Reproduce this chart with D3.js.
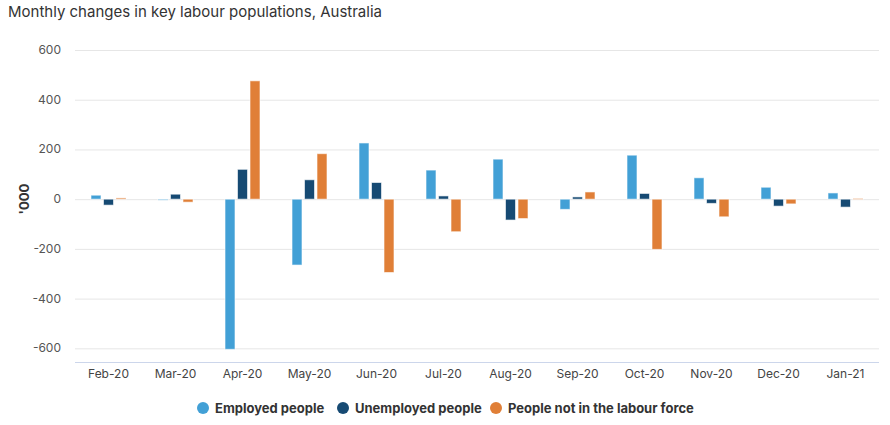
<!DOCTYPE html>
<html>
<head>
<meta charset="utf-8">
<script src="https://cdn.jsdelivr.net/npm/d3@7"></script>
<style>
  body { margin: 0; background: #fff; font-family: Inter, "Noto Sans", sans-serif; }
  svg text { font-family: Inter, "Noto Sans", sans-serif; }
</style>
</head>
<body>
<svg width="890" height="425"></svg>
<script>
// data, '000 persons, monthly change
var months = ["Feb-20", "Mar-20", "Apr-20", "May-20", "Jun-20", "Jul-20",
              "Aug-20", "Sep-20", "Oct-20", "Nov-20", "Dec-20", "Jan-21"];
var employed   = [16, -2, -604, -265, 226, 117, 161, -41, 177, 86, 48, 25];
var unemployed = [-24, 20, 120, 78, 67, 13, -84, 9, 23, -17, -28, -32];
var notInForce = [5, -12, 476, 183, -295, -131, -78, 29, -202, -71, -19, 3];
var yTicks = [-600, -400, -200, 0, 200, 400, 600];

var seriesNames = ["Employed people", "Unemployed people", "People not in the labour force"];
var seriesColors = ["#42a0d6", "#164a73", "#e07f37"];
var seriesValues = [employed, unemployed, notInForce];

var svg = d3.select("svg");
var margin = {left: 75, right: 11, top: 50, bottom: 63};
var width = 890 - margin.left - margin.right,
    height = 425 - margin.top - margin.bottom;

var x = d3.scaleBand().domain(months).range([margin.left, margin.left + width]);
var x1 = d3.scaleBand().domain(d3.range(3)).range([x.bandwidth() / 2 - 20, x.bandwidth() / 2 + 20]).padding(0.2);
var y = d3.scaleLinear().domain([-655, 600]).range([margin.top + height, margin.top]);

// title
svg.append("text")
  .attr("x", 8).attr("y", 17)
  .attr("fill", "#333").style("font-size", "15px")
  .text("Monthly changes in key labour populations, Australia");

// gridlines
svg.append("g").selectAll("line")
  .data(yTicks)
  .enter().append("line")
  .attr("x1", margin.left).attr("x2", margin.left + width)
  .attr("y1", function(d) { return y(d) + 0.5; })
  .attr("y2", function(d) { return y(d) + 0.5; })
  .attr("stroke", "#e6e6e6");

// y tick labels
svg.append("g").selectAll("text")
  .data(yTicks)
  .enter().append("text")
  .attr("x", 61)
  .attr("y", function(d) { return y(d) + 4; })
  .attr("text-anchor", "end")
  .attr("fill", "#555").style("font-size", "12px")
  .text(function(d) { return d; });

// y axis title
svg.append("text")
  .attr("transform", "translate(29," + y(0) + ") rotate(-90)")
  .attr("text-anchor", "middle")
  .attr("fill", "#333").style("font-size", "13px").style("font-weight", "bold")
  .text("'000");

// bottom axis line
svg.append("line")
  .attr("x1", margin.left).attr("x2", margin.left + width)
  .attr("y1", margin.top + height + 0.5).attr("y2", margin.top + height + 0.5)
  .attr("stroke", "#ccd6eb");

// x labels
svg.append("g").selectAll("text")
  .data(months)
  .enter().append("text")
  .attr("x", function(d) { return x(d) + x.bandwidth() / 2; })
  .attr("y", margin.top + height + 16)
  .attr("text-anchor", "middle")
  .attr("fill", "#444").style("font-size", "12px")
  .text(function(d) { return d; });

// bars
var groups = svg.append("g").selectAll("g")
  .data(months)
  .enter().append("g")
  .attr("transform", function(d) { return "translate(" + x(d) + ",0)"; });

groups.selectAll("rect")
  .data(function(d, i) {
    return seriesValues.map(function(vals, s) { return {s: s, v: vals[i]}; });
  })
  .enter().append("rect")
  .attr("x", function(d) { return x1(d.s); })
  .attr("width", x1.bandwidth())
  .attr("y", function(d) { return Math.min(y(d.v), y(0)); })
  .attr("height", function(d) { return Math.max(Math.abs(y(d.v) - y(0)), 1); })
  .attr("fill", function(d) { return seriesColors[d.s]; })
  .attr("stroke", "#fff").attr("stroke-opacity", 0.6).attr("stroke-width", 1);

// legend
var legendX = [203, 343, 496];
var legend = svg.append("g").selectAll("g")
  .data(seriesNames)
  .enter().append("g")
  .attr("transform", function(d, i) { return "translate(" + legendX[i] + ",408)"; });

legend.append("circle")
  .attr("r", 6)
  .attr("fill", function(d, i) { return seriesColors[i]; });

legend.append("text")
  .attr("x", 12).attr("y", 5)
  .attr("fill", "#333").style("font-size", "13px").style("font-weight", "bold")
  .text(function(d) { return d; });
</script>
</body>
</html>
